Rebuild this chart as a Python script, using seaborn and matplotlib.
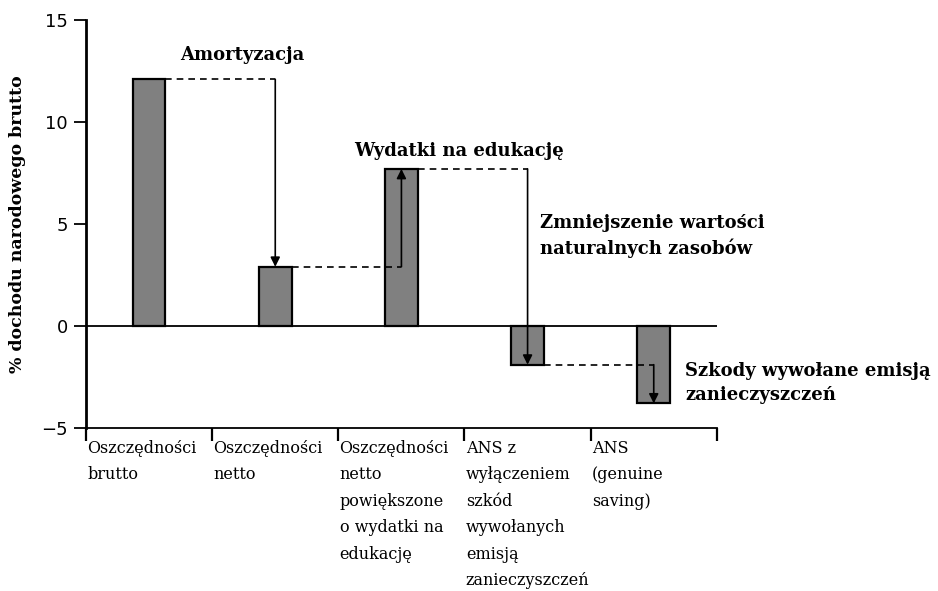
import matplotlib.pyplot as plt
import numpy as np
import pandas as pd
import seaborn as sns
from matplotlib.transforms import blended_transform_factory

# Data
categories = [
	"Oszczędności brutto",
	"Oszczędności netto",
	"Oszczędności netto powiększone o wydatki na edukację",
	"ANS z wyłączeniem szkód wywołanych emisją zanieczyszczeń",
	"ANS (genuine saving)",
]
category_labels = [
	"Oszczędności\nbrutto",
	"Oszczędności\nnetto",
	"Oszczędności\nnetto\npowiększone\no wydatki na\nedukację",
	"ANS z\nwyłączeniem\nszkód\nwywołanych\nemisją\nzanieczyszczeń",
	"ANS\n(genuine\nsaving)",
]
values = [12.1, 2.9, 7.7, -1.9, -3.8]
step_labels = [
	"Amortyzacja",
	"Wydatki na edukację",
	"Zmniejszenie wartości\nnaturalnych zasobów",
	"Szkody wywołane emisją\nzanieczyszczeń",
]
y_ticks = [-5, 0, 5, 10, 15]

sns.set_style("white")
serif = ["DejaVu Serif"]
sans = ["DejaVu Sans"]

fig = plt.figure(figsize=(9.38, 5.91), dpi=100)
ax = fig.add_axes([0.0917, 0.276, 0.6725, 0.69])

df = pd.DataFrame({"category": categories, "value": values})
bar_width = 0.26
sns.barplot(
	data=df,
	x="category",
	y="value",
	color="#808080",
	saturation=1,
	width=bar_width,
	edgecolor="black",
	linewidth=1.6,
	ax=ax,
)

ax.set_xlim(-0.5, len(categories) - 0.5)
ax.set_ylim(-5, 15)
ax.set_xlabel("")
ax.set_ylabel("")

# zero line
ax.axhline(0, color="black", lw=1.3, zorder=1)

# connectors between bars: dashed run then solid arrow to next value
for i in range(len(values) - 1):
	x0 = i + bar_width / 2
	x1 = i + 1
	y0 = values[i]
	y1 = values[i + 1]
	ax.plot([x0, x1], [y0, y0], color="black", lw=1.2, ls=(0, (4, 3)), zorder=3)
	ax.annotate(
		"",
		xy=(x1, y1),
		xytext=(x1, y0),
		arrowprops=dict(arrowstyle="-|>", color="black", lw=1.2, mutation_scale=14, shrinkA=0, shrinkB=0),
		zorder=4,
	)

# step annotations
text_kw = dict(fontsize=13, fontweight="bold", family=serif, color="black")
ax.text(0.74, 13.3, step_labels[0], ha="center", va="center", **text_kw)
ax.text(2.46, 8.6, step_labels[1], ha="center", va="center", **text_kw)
ax.text(3.10, 4.4, step_labels[2], ha="left", va="center", linespacing=1.45, **text_kw)
ax.text(4.25, -2.8, step_labels[3], ha="left", va="center", linespacing=1.45, **text_kw)

# axes styling
for side in ["top", "right"]:
	ax.spines[side].set_visible(False)
ax.spines["left"].set_linewidth(2)
ax.spines["left"].set_color("black")
ax.spines["bottom"].set_linewidth(1.3)
ax.spines["bottom"].set_color("black")
ax.spines["bottom"].set_position(("data", -5))

ax.set_yticks(y_ticks)
ax.set_yticklabels([str(t).replace("-", "\u2212") for t in y_ticks], family=sans, fontsize=13)
ax.tick_params(axis="y", direction="out", length=9, width=1.3, color="black", labelcolor="black", pad=4, left=True)

boundaries = np.arange(len(categories) + 1) - 0.5
ax.set_xticks(boundaries)
ax.set_xticklabels([""] * len(boundaries))
ax.tick_params(axis="x", direction="out", length=9, width=1.6, color="black", bottom=True)

# category labels below the axis, left aligned in each slot
trans = blended_transform_factory(ax.transData, ax.transAxes)
for i, lab in enumerate(category_labels):
	ax.text(
		i - 0.49,
		-0.03,
		lab,
		transform=trans,
		ha="left",
		va="top",
		fontsize=11.5,
		family=serif,
		color="black",
		linespacing=1.72,
	)

fig.text(
	0.019,
	0.62,
	"% dochodu narodowego brutto",
	rotation=90,
	ha="center",
	va="center",
	fontsize=12.5,
	fontweight="bold",
	family=serif,
	color="black",
)

fig.savefig("out.png", dpi=100, facecolor="white")
